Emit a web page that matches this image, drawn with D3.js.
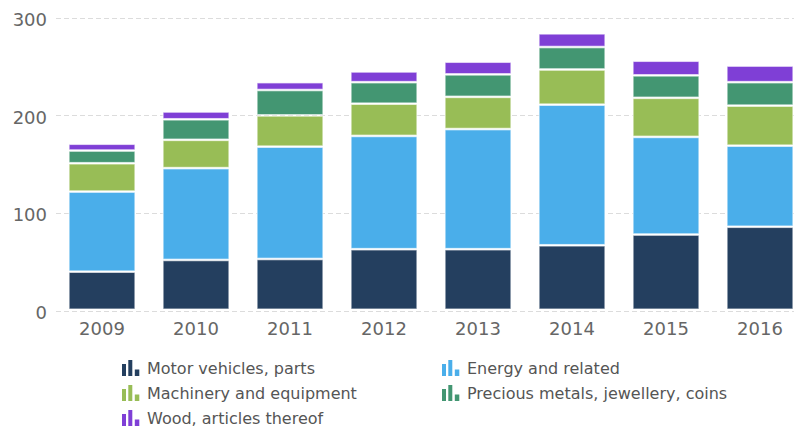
<!DOCTYPE html>
<html>
<head>
<meta charset="utf-8">
<script src="https://cdn.jsdelivr.net/npm/d3@7/dist/d3.min.js"></script>
<style>
  html, body { margin: 0; padding: 0; background: #fff; }
  svg { display: block; font-family: "DejaVu Sans", sans-serif; }
</style>
</head>
<body>
<svg id="chart" width="794" height="429"></svg>
<script>
const years = ["2009", "2010", "2011", "2012", "2013", "2014", "2015", "2016"];
const seriesNames = ["Motor vehicles, parts", "Energy and related", "Machinery and equipment", "Precious metals, jewellery, coins", "Wood, articles thereof"];
const motor = [39, 51, 52, 62, 62, 66, 77, 85];
const energy = [82, 94, 115, 116, 123, 144, 100, 83];
const machinery = [29, 29, 32, 33, 33, 36, 40, 41];
const precious = [13, 21, 26, 22, 23, 23, 23, 24];
const wood = [7, 8, 8, 11, 13, 14, 15, 17];
const yTicks = [0, 100, 200, 300];
const colors = ["#243f5f", "#4aaeea", "#98bd56", "#439672", "#7f3fd6"];

const seriesValues = [motor, energy, machinery, precious, wood];
const keys = seriesNames;
const table = years.map((yr, i) => {
  const row = { year: yr };
  keys.forEach((k, j) => { row[k] = seriesValues[j][i]; });
  return row;
});
const stacked = d3.stack().keys(keys)(table);

const svg = d3.select("#chart");
const x = d3.scaleBand().domain(years).range([55, 807]).paddingInner(0.3).paddingOuter(0.15);
const y = d3.scaleLinear().domain([0, 300]).range([310.5, 17.5]);

// gridlines
svg.append("g").selectAll("line").data(yTicks).join("line")
  .attr("x1", 56).attr("x2", 794)
  .attr("y1", d => Math.round(y(d)) + 0.5).attr("y2", d => Math.round(y(d)) + 0.5)
  .attr("stroke", "#dcdcdc").attr("stroke-width", 1.2).attr("stroke-dasharray", "5,3");

// y tick labels
svg.append("g").selectAll("text").data(yTicks).join("text")
  .attr("x", 47).attr("y", d => y(d)).attr("dy", "0.47em")
  .attr("text-anchor", "end").attr("fill", "#666").attr("font-size", 18)
  .text(d => d);

// x tick labels
svg.append("g").selectAll("text").data(years).join("text")
  .attr("x", d => x(d) + x.bandwidth() / 2).attr("y", 335)
  .attr("text-anchor", "middle").attr("fill", "#666").attr("font-size", 18)
  .text(d => d);

// bars
svg.append("g").selectAll("g").data(stacked).join("g")
  .attr("fill", (d, i) => colors[i])
  .selectAll("rect").data(d => d).join("rect")
  .attr("x", d => x(d.data.year))
  .attr("width", x.bandwidth())
  .attr("y", d => y(d[1]))
  .attr("height", d => Math.max(0, y(d[0]) - y(d[1]) - 1.5))
  .attr("stroke", "rgba(255,255,255,0.6)").attr("stroke-width", 1.2);

// legend
const legendPos = [[122, 374], [442, 374], [122, 399], [442, 399], [122, 424]];
const iconBars = [[0, 4, 12], [6.3, 4, 16], [12.8, 4.5, 6.5]];
const lg = svg.append("g").selectAll("g").data(keys).join("g")
  .attr("transform", (d, i) => `translate(${legendPos[i][0]},${legendPos[i][1]})`);
lg.each(function(d, i) {
  d3.select(this).selectAll("rect").data(iconBars).join("rect")
    .attr("x", b => b[0]).attr("width", b => b[1])
    .attr("y", b => 2 - b[2]).attr("height", b => b[2])
    .attr("fill", colors[i]);
});
lg.append("text").attr("x", 25).attr("y", 0)
  .attr("fill", "#555").attr("font-size", 16).text(d => d);
</script>
</body>
</html>
